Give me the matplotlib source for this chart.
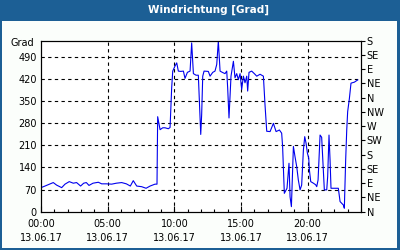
import numpy as np
import matplotlib.pyplot as plt
from matplotlib.patches import Rectangle

# wind direction readings, 13.06.17 (hours since midnight, degrees)
hours = [0.0, 0.3, 0.92, 1.17, 1.55, 1.8, 2.12, 2.42, 2.67, 2.97, 3.2, 3.4, 3.6, 3.9,
         4.3, 4.55, 4.9, 5.3, 5.65, 6.05, 6.4, 6.7, 6.92, 7.18, 7.55, 7.88, 8.18, 8.55,
         8.7, 8.75, 8.93, 9.13, 9.3, 9.55, 9.68, 9.8, 9.88, 10.05, 10.18, 10.3, 10.48,
         10.68, 10.8, 10.98, 11.18, 11.3, 11.43, 11.63, 11.8, 11.88, 11.98, 12.05, 12.13,
         12.23, 12.55, 12.68, 12.88, 13.05, 13.18, 13.3, 13.43, 13.6, 13.8, 13.93, 14.0,
         14.1, 14.25, 14.43, 14.55, 14.68, 14.8, 14.93, 15.05, 15.18, 15.3, 15.43, 15.5,
         15.6, 15.8, 16.0, 16.18, 16.43, 16.68, 16.8, 16.93, 17.18, 17.43, 17.63, 17.88,
         18.05, 18.12, 18.25, 18.45, 18.6, 18.68, 18.78, 18.93, 19.05, 19.18, 19.3, 19.43,
         19.55, 19.68, 19.78, 19.88, 19.98, 20.08, 20.13, 20.23, 20.43, 20.6, 20.68, 20.78,
         20.93, 21.05, 21.25, 21.43, 21.5, 21.6, 21.68, 21.75, 22.3, 22.43, 22.68, 22.75,
         22.85, 22.93, 23.0, 23.13, 23.25, 23.5, 23.75]
degrees = [76, 81, 92, 84, 76, 87, 95, 90, 92, 81, 90, 92, 83, 90,
           93, 88, 88, 87, 90, 92, 88, 81, 98, 81, 79, 74, 81, 87,
           87, 300, 259, 265, 265, 262, 266, 391, 444, 460, 470, 444, 443,
           444, 421, 440, 444, 533, 436, 431, 431, 349, 244, 307, 428,
           444, 443, 428, 440, 444, 465, 539, 444, 440, 436, 444, 391,
           296, 428, 475, 423, 436, 417, 436, 386, 428, 407, 428, 381,
           440, 444, 436, 428, 434, 428, 338, 254, 253, 279, 253, 258,
           248, 206, 58, 74, 153, 47, 16, 206, 174, 142, 100, 69,
           84, 195, 237, 216, 185, 169, 132, 95, 90, 85, 79, 100,
           242, 235, 69, 69, 111, 242, 163, 74, 74, 32, 21, 11,
           163, 258, 316, 358, 406, 409, 416]

left_ticks = [0, 70, 140, 210, 280, 350, 420, 490]
compass = ["N", "NE", "E", "SE", "S", "SW", "W", "NW", "N", "NE", "E", "SE", "S"]
compass_deg = [45 * i for i in range(len(compass))]
hour_ticks = [0, 5, 10, 15, 20]
date_label = "13.06.17"
title = "Windrichtung [Grad]"

blue = "#1c5f95"
plt.rcParams["font.family"] = "DejaVu Sans"
plt.rcParams["font.size"] = 7

fig = plt.figure(figsize=(4, 2.5), dpi=100)
fig.patch.set_facecolor(blue)
# inner panel + title bar
fig.patches.append(Rectangle((2/400, 2/250), 395/400, 227/250, transform=fig.transFigure,
                             facecolor="#fbfefb", edgecolor="none", zorder=-10))
fig.text(209/400, 1 - 10/250, title, color="white", fontsize=7.5, fontweight="bold",
         ha="center", va="center")

ax = fig.add_axes([41/400, 38.3/250, 320/400, 171/250])
ax.set_facecolor("white")
ax.plot(hours, degrees, color="#0000ee", lw=0.8)

ax.set_xlim(0, 24)
ax.set_ylim(0, 540)
ax.set_yticks(left_ticks)
ax.tick_params(axis="y", length=0, pad=3)
ax.set_xticks(hour_ticks)
ax.set_xticklabels([f"{h:02d}:00\n{date_label}" for h in hour_ticks], linespacing=1.6)
ax.set_xticks(np.arange(0, 25, 1), minor=True)
ax.tick_params(axis="x", which="major", direction="in", length=4, width=0.8, pad=5)
ax.tick_params(axis="x", which="minor", direction="in", length=2.5, width=0.8)

for v in left_ticks[1:]:
    ax.axhline(v, color="black", lw=0.8, ls=(0, (3, 3)), zorder=1)
for h in hour_ticks[1:]:
    ax.axvline(h, color="black", lw=0.8, ls=(0, (3, 3)), zorder=1)

for s in ax.spines.values():
    s.set_linewidth(0.8)

ax.text(-0.02, 0.955, "Grad", transform=ax.transAxes, ha="right", va="bottom")

ax2 = ax.twinx()
ax2.set_ylim(0, 540)
ax2.set_yticks(compass_deg)
ax2.set_yticklabels(compass)
ax2.tick_params(axis="y", direction="out", length=3, width=0.8, pad=1)
for s in ax2.spines.values():
    s.set_linewidth(0.8)

fig.savefig("out.png", dpi=100, facecolor=fig.get_facecolor())
